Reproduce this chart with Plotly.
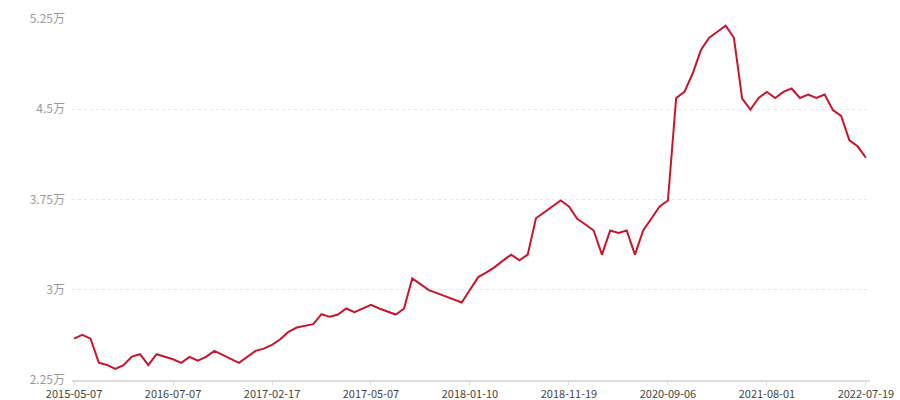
import plotly.graph_objects as go

# price series in 万 (10k units), one point per period, evenly spaced on a category axis
values = [
    2.594, 2.625, 2.594, 2.394, 2.375, 2.342, 2.373, 2.444, 2.464, 2.373,
    2.464, 2.442, 2.422, 2.392, 2.442, 2.411, 2.442, 2.492, 2.456, 2.425,
    2.392, 2.442, 2.492, 2.511, 2.542, 2.589, 2.650, 2.686, 2.700, 2.714,
    2.797, 2.775, 2.794, 2.844, 2.814, 2.844, 2.875, 2.844, 2.822, 2.794,
    2.842, 3.094, 3.047, 2.997, 2.972, 2.944, 2.922, 2.894, 3.000, 3.105,
    3.144, 3.188, 3.242, 3.292, 3.244, 3.292, 3.594, 3.644, 3.692, 3.742,
    3.692, 3.589, 3.542, 3.492, 3.292, 3.492, 3.472, 3.492, 3.292, 3.492,
    3.592, 3.692, 3.742, 4.594, 4.644, 4.797, 4.992, 5.094, 5.144, 5.194,
    5.094, 4.589, 4.497, 4.594, 4.644, 4.594, 4.644, 4.672, 4.594, 4.622,
    4.594, 4.622, 4.494, 4.444, 4.242, 4.192, 4.097,
]
x_index = list(range(len(values)))

x_tick_pos = [0, 12, 24, 36, 48, 60, 72, 84, 96]
x_tick_labels = ["2015-05-07", "2016-07-07", "2017-02-17", "2017-05-07", "2018-01-10",
                 "2018-11-19", "2020-09-06", "2021-08-01", "2022-07-19"]

y_tick_vals = [2.25, 3, 3.75, 4.5, 5.25]
y_tick_labels = ["2.25万", "3万", "3.75万", "4.5万", "5.25万"]

fig = go.Figure()

fig.add_trace(go.Scatter(
    x=x_index,
    y=values,
    mode="lines",
    line=dict(color="#c8152b", width=2),
    hoverinfo="y",
    showlegend=False,
))

fig.update_layout(
    width=900,
    height=400,
    paper_bgcolor="white",
    plot_bgcolor="white",
    font=dict(family="Noto Sans CJK SC, sans-serif", size=12),
    margin=dict(l=72, r=30, t=19, b=20),
    xaxis=dict(
        range=[-0.25, 96.5],
        tickvals=x_tick_pos,
        ticktext=x_tick_labels,
        automargin=False,
        showgrid=False,
        zeroline=False,
        showline=True,
        linecolor="#dddddd",
        linewidth=2,
        ticks="outside",
        ticklen=3,
        tickcolor="#dddddd",
        tickfont=dict(color="#444444", size=11),
    ),
    yaxis=dict(
        range=[2.25, 5.25],
        tickvals=y_tick_vals,
        ticktext=y_tick_labels,
        automargin=False,
        showgrid=True,
        gridcolor="#e8e8e8",
        griddash="3px,3px",
        gridwidth=1,
        zeroline=False,
        showline=False,
        ticks="",
        ticklabelstandoff=6,
        tickfont=dict(color="#999999", size=12),
    ),
)

# drop the default page margin so the 900x400 figure fills the window exactly
fig.write_html(
    "out.html",
    config={"displayModeBar": False},
    post_script="document.body.style.margin = '0';",
)
